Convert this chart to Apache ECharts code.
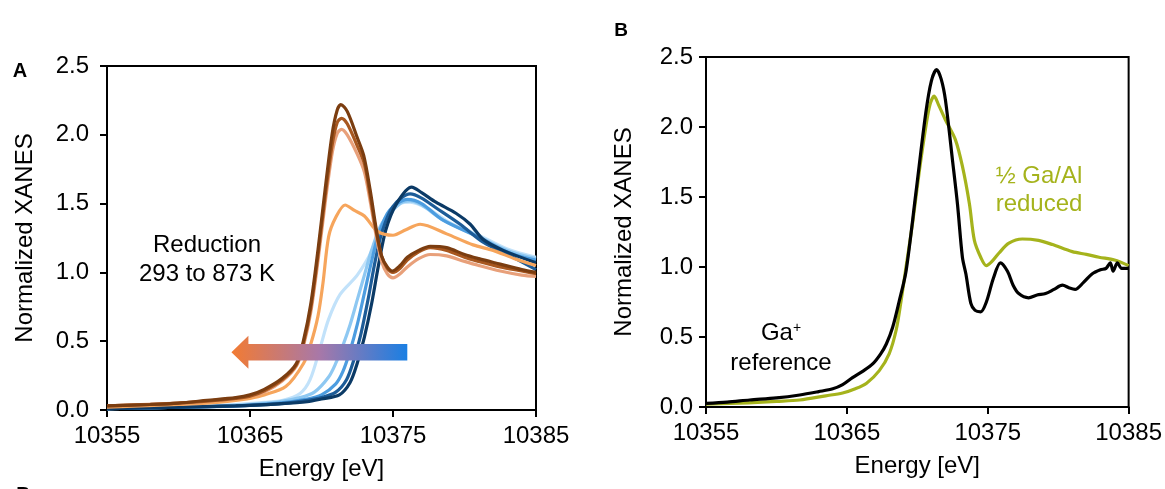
<!DOCTYPE html>
<html>
<head>
<meta charset="utf-8">
<script src="https://cdn.jsdelivr.net/npm/echarts@6/dist/echarts.min.js"></script>
<style>
  html, body { margin: 0; padding: 0; background: #fff; }
  #chart { width: 1165px; height: 489px; }
</style>
</head>
<body>
<div id="chart"></div>
<script>
const FONT = '"Liberation Sans", Arial, sans-serif';

// tick labels
const energyTicks = [10355, 10365, 10375, 10385];

// panel A: reduction series, [energy eV, normalized XANES]
const blueLightest = [[10355,0.01],[10360,0.025],[10364,0.04],[10366,0.055],[10367.3,0.07],[10368.5,0.12],[10369.2,0.22],[10369.9,0.45],[10370.5,0.66],[10371.3,0.84],[10372.5,0.98],[10373.6,1.17],[10374.5,1.38],[10375.5,1.5],[10376.2,1.51],[10377.5,1.46],[10379,1.36],[10381,1.27],[10383,1.17],[10385,1.11]];
const blueLight = [[10355,0.01],[10360,0.02],[10364,0.035],[10367,0.06],[10368.5,0.09],[10369.5,0.13],[10370.5,0.24],[10371,0.34],[10371.5,0.47],[10372,0.62],[10372.5,0.8],[10373,0.98],[10373.5,1.16],[10374.25,1.36],[10375.5,1.5],[10376.2,1.52],[10377,1.49],[10378.5,1.38],[10381,1.26],[10383,1.16],[10385,1.1]];
const blueMid = [[10355,0.01],[10360,0.02],[10364,0.03],[10367,0.05],[10369,0.08],[10370,0.11],[10371,0.19],[10371.5,0.28],[10372,0.43],[10372.5,0.62],[10373,0.85],[10373.5,1.08],[10374,1.28],[10374.75,1.45],[10376,1.53],[10377,1.5],[10378.5,1.38],[10380.9,1.26],[10383.2,1.14],[10385,1.09]];
const blueDark = [[10355,0.01],[10360,0.02],[10364,0.03],[10367,0.045],[10369,0.07],[10370,0.09],[10371,0.13],[10371.75,0.22],[10372.25,0.36],[10372.75,0.55],[10373.25,0.8],[10373.75,1.08],[10374.25,1.3],[10375,1.48],[10376.2,1.57],[10377,1.54],[10378,1.47],[10379.7,1.35],[10381.3,1.22],[10383.2,1.12],[10385,1.02]];
const blueNavy = [[10355,0.01],[10360,0.02],[10364,0.03],[10367,0.045],[10369,0.06],[10370,0.08],[10371.25,0.11],[10372,0.2],[10372.5,0.34],[10373,0.53],[10373.5,0.77],[10374,1.06],[10374.5,1.31],[10375.25,1.5],[10376.3,1.62],[10377,1.58],[10378,1.51],[10379.4,1.43],[10380.4,1.35],[10381.3,1.24],[10382.7,1.16],[10385,1.07]];
const orangeA = [[10355,0.02],[10360,0.04],[10362,0.05],[10364,0.07],[10365,0.085],[10366,0.11],[10367.5,0.17],[10368.75,0.34],[10369.25,0.48],[10369.75,0.68],[10370.1,0.92],[10370.5,1.26],[10371,1.4],[10371.65,1.49],[10372.3,1.45],[10373,1.41],[10373.9,1.3],[10375,1.27],[10375.9,1.31],[10376.9,1.35],[10378.75,1.28],[10380.6,1.2],[10382,1.16],[10383.5,1.1],[10385,1.05]];
const salmonA = [[10355,0.03],[10360,0.05],[10362,0.065],[10364,0.085],[10365,0.1],[10366,0.13],[10367.25,0.21],[10368.25,0.32],[10368.75,0.47],[10369.25,0.71],[10369.75,1.08],[10370.25,1.5],[10370.75,1.87],[10371.1,2.01],[10371.4,2.04],[10371.8,2.0],[10372.5,1.86],[10373,1.73],[10373.4,1.52],[10373.8,1.28],[10374.2,1.08],[10374.6,0.99],[10375,0.96],[10375.5,0.99],[10376,1.04],[10376.8,1.1],[10377.6,1.13],[10378.75,1.12],[10380,1.08],[10381,1.05],[10382.5,1.01],[10384,0.98],[10385,0.97]];
const brownA = [[10355,0.03],[10358,0.04],[10360,0.05],[10362,0.065],[10364,0.085],[10365,0.1],[10366,0.14],[10367.25,0.22],[10368.25,0.33],[10368.75,0.49],[10369.25,0.74],[10369.75,1.12],[10370.25,1.55],[10370.75,1.93],[10371.1,2.09],[10371.4,2.12],[10371.8,2.08],[10372.5,1.92],[10373,1.79],[10373.4,1.56],[10373.8,1.31],[10374.2,1.12],[10374.6,1.03],[10375,1.0],[10375.5,1.03],[10376,1.09],[10376.8,1.15],[10377.6,1.18],[10378.75,1.16],[10380,1.11],[10381,1.08],[10382.5,1.04],[10384,1.01],[10385,0.99]];
const brownDarkA = [[10355,0.03],[10358,0.04],[10360,0.05],[10362,0.07],[10364,0.09],[10365,0.11],[10366,0.15],[10367.25,0.23],[10368.25,0.34],[10368.75,0.51],[10369.25,0.77],[10369.75,1.16],[10370.25,1.6],[10370.75,2.01],[10371.1,2.18],[10371.35,2.22],[10371.8,2.17],[10372.5,1.98],[10372.95,1.85],[10373.4,1.6],[10373.85,1.3],[10374.2,1.12],[10374.6,1.04],[10374.95,1.01],[10375.5,1.05],[10376,1.11],[10376.8,1.16],[10377.6,1.19],[10378.75,1.18],[10380,1.13],[10381,1.1],[10382.5,1.06],[10384,1.02],[10385,1.0]];

// panel B: reference and reduced sample
const gaRef = [[10355,0.026],[10356.5,0.035],[10358.1,0.05],[10360,0.065],[10361.65,0.086],[10363,0.11],[10364,0.13],[10364.7,0.16],[10365.4,0.21],[10366.2,0.26],[10366.85,0.31],[10367.4,0.38],[10367.8,0.45],[10368.25,0.57],[10368.7,0.75],[10369.2,0.97],[10369.9,1.53],[10370.6,2.1],[10371,2.33],[10371.37,2.41],[10371.7,2.34],[10372,2.19],[10372.5,1.76],[10372.85,1.45],[10373.2,1.07],[10373.45,0.95],[10373.8,0.74],[10374.1,0.69],[10374.5,0.68],[10374.9,0.75],[10375.4,0.92],[10375.9,1.03],[10376.4,0.97],[10376.8,0.87],[10377.2,0.81],[10377.9,0.78],[10378.5,0.8],[10379.1,0.81],[10379.7,0.84],[10380.3,0.87],[10380.8,0.85],[10381.2,0.84],[10381.8,0.89],[10382.4,0.95],[10383,0.98],[10383.4,0.99],[10383.7,1.03],[10383.9,0.97],[10384.2,1.03],[10384.5,0.99],[10385,0.99]];
const gaAlReduced = [[10355,0.02],[10358,0.03],[10360,0.04],[10361.65,0.05],[10363.5,0.08],[10364.7,0.1],[10365.6,0.13],[10366.4,0.17],[10367.3,0.26],[10368,0.38],[10368.5,0.55],[10368.85,0.76],[10369.2,1.0],[10369.7,1.34],[10370.15,1.69],[10370.6,2.0],[10370.9,2.16],[10371.2,2.22],[10371.5,2.16],[10372,2.05],[10372.7,1.91],[10373.2,1.72],[10373.7,1.45],[10374.05,1.19],[10374.5,1.07],[10374.9,1.01],[10375.3,1.04],[10375.8,1.1],[10376.5,1.17],[10377.45,1.2],[10378.6,1.19],[10379.6,1.16],[10381,1.11],[10382,1.09],[10382.9,1.07],[10384,1.05],[10385,1.01]];

const seriesA = [
  { data: blueLightest, color: '#c2e2fa' },
  { data: blueLight, color: '#8ec8f2' },
  { data: blueMid, color: '#4d9de0' },
  { data: blueDark, color: '#1d5c98' },
  { data: blueNavy, color: '#0b3a66' },
  { data: orangeA, color: '#f6a55c' },
  { data: salmonA, color: '#e8a07a' },
  { data: brownA, color: '#a8571f' },
  { data: brownDarkA, color: '#7b3d10' }
];
const seriesB = [
  { data: gaAlReduced, color: '#a5b31c' },
  { data: gaRef, color: '#000000' }
];

function energyAxis(gridIndex) {
  return {
    type: 'value', gridIndex, min: 10355, max: 10385,
    name: 'Energy [eV]', nameLocation: 'middle', nameGap: 47,
    nameTextStyle: { fontSize: 24, color: '#000', fontFamily: FONT },
    axisLine: { show: true, lineStyle: { color: '#000', width: 2 } },
    axisTick: { show: true, length: 7, lineStyle: { color: '#000', width: 2 }, customValues: energyTicks },
    axisLabel: { fontSize: 24, color: '#000', fontFamily: FONT, margin: 14, customValues: energyTicks, formatter: v => String(v) },
    splitLine: { show: false }
  };
}
function xanesAxis(gridIndex, margin) {
  return {
    type: 'value', gridIndex, min: 0, max: 2.5, interval: 0.5,
    name: 'Normalized XANES', nameLocation: 'middle', nameGap: 70,
    nameTextStyle: { fontSize: 24, color: '#000', fontFamily: FONT },
    axisLine: { show: true, lineStyle: { color: '#000', width: 2 } },
    axisTick: { show: true, length: 7, lineStyle: { color: '#000', width: 2 } },
    axisLabel: { fontSize: 24, color: '#000', fontFamily: FONT, margin, formatter: v => v.toFixed(1) },
    splitLine: { show: false }
  };
}
function lineSeries(s, idx) {
  return {
    type: 'line', xAxisIndex: idx, yAxisIndex: idx, data: s.data,
    showSymbol: false, smooth: 0.3, silent: true,
    lineStyle: { color: s.color, width: 3.2 }, itemStyle: { color: s.color }
  };
}

const chart = echarts.init(document.getElementById('chart'), null, { renderer: 'canvas' });
chart.setOption({
  animation: false,
  backgroundColor: '#fff',
  grid: [
    { left: 107, top: 66, width: 429, height: 344, show: true, borderColor: '#000', borderWidth: 2, containLabel: false },
    { left: 706, top: 57, width: 424, height: 350, show: true, borderColor: '#000', borderWidth: 2, containLabel: false }
  ],
  xAxis: [energyAxis(0), energyAxis(1)],
  yAxis: [xanesAxis(0, 18), xanesAxis(1, 13)],
  series: seriesA.map(s => lineSeries(s, 0)).concat(seriesB.map(s => lineSeries(s, 1)))
});

// arrow annotation (temperature direction), placed in panel A data space
const tip = chart.convertToPixel({ gridIndex: 0 }, [10363.7, 0.42]);
const tail = chart.convertToPixel({ gridIndex: 0 }, [10376.0, 0.42]);
const headLen = 17, headHalf = 16.5, shaftHalf = 8.3;
const arrowPts = [
  [tip[0], tip[1]],
  [tip[0] + headLen, tip[1] - headHalf],
  [tip[0] + headLen, tip[1] - shaftHalf],
  [tail[0], tip[1] - shaftHalf],
  [tail[0], tip[1] + shaftHalf],
  [tip[0] + headLen, tip[1] + shaftHalf],
  [tip[0] + headLen, tip[1] + headHalf]
];

function label(text, x, y, opts) {
  return {
    type: 'text', silent: true, z: 100,
    style: Object.assign({
      text, x, y, fill: '#000', font: '24px ' + FONT,
      textAlign: 'center', textVerticalAlign: 'middle'
    }, opts || {})
  };
}

chart.setOption({
  graphic: [
    {
      type: 'polygon', silent: true, z: 90,
      shape: { points: arrowPts },
      style: {
        fill: new echarts.graphic.LinearGradient(0, 0, 1, 0, [
          { offset: 0, color: '#f27b33' },
          { offset: 0.5, color: '#a878a8' },
          { offset: 1, color: '#1a7fe3' }
        ])
      }
    },
    label('A', 20, 71, { font: 'bold 20px ' + FONT }),
    label('B', 621, 31, { font: 'bold 19px ' + FONT }),
    label('B', 23, 495, { font: 'bold 19px ' + FONT }),
    label('Reduction', 207, 245),
    label('293 to 873 K', 207, 274),
    label('½ Ga/Al', 1039, 176, { fill: '#a5b31c' }),
    label('reduced', 1039, 204, { fill: '#a5b31c' }),
    {
      type: 'text', silent: true, z: 100,
      style: {
        text: 'Ga{sup|+}', x: 781, y: 333, fill: '#000', font: '24px ' + FONT,
        textAlign: 'center', textVerticalAlign: 'middle',
        rich: { sup: { fontSize: 14, fontFamily: FONT, verticalAlign: 'top', fill: '#000' } }
      }
    },
    label('reference', 781, 363)
  ]
});
</script>
</body>
</html>
